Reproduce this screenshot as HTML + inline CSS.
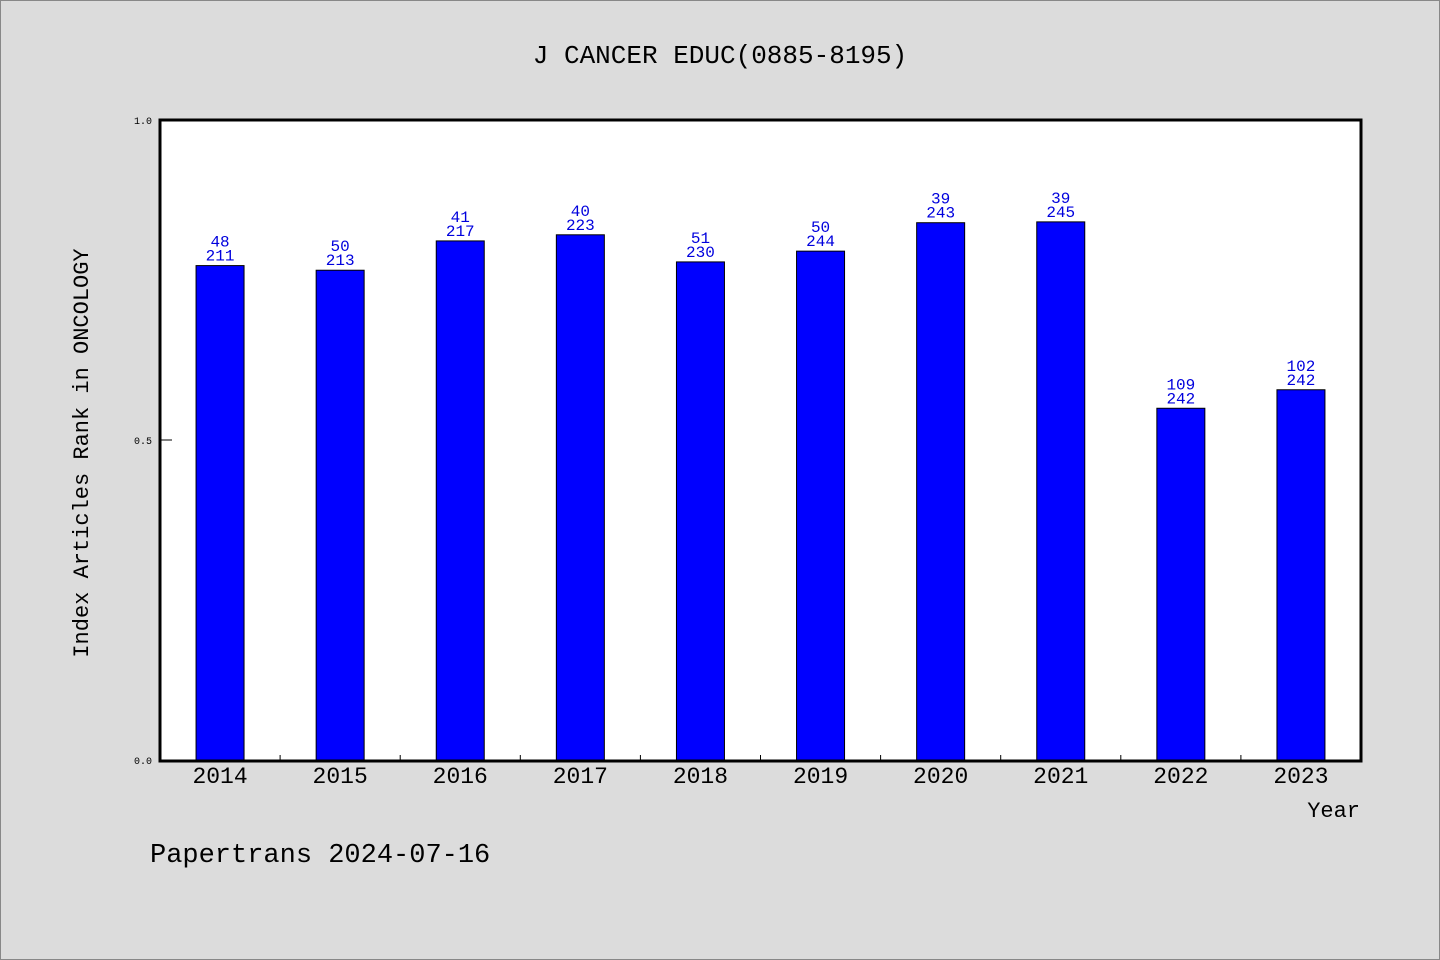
<!DOCTYPE html>
<html><head><meta charset="utf-8"><style>
body{margin:0;background:#dcdcdc;}
svg{display:block;}
text{font-family:"Liberation Mono","WenQuanYi Zen Hei",monospace;}
</style></head><body>
<svg width="1440" height="960">
<rect x="0.5" y="0.5" width="1439" height="959" fill="#dcdcdc" stroke="#888"/>
<text x="720" y="63" font-size="26" text-anchor="middle" fill="#000">J CANCER EDUC(0885-8195)</text>
<rect x="160" y="120" width="1201" height="641" fill="#fff"/>
<g id="bars"></g>
<rect x="160" y="120" width="1201" height="641" fill="none" stroke="#000" stroke-width="3"/>
<g id="axes"></g>
<text transform="translate(88,453) rotate(-90)" font-size="22" text-anchor="middle" fill="#000">Index Articles Rank in ONCOLOGY</text>
<text x="1360" y="817" font-size="22" text-anchor="end" fill="#000">Year</text>
<text x="150" y="862" font-size="27" fill="#000">Papertrans 2024-07-16</text>
</svg>
<script>
const years=["2014","2015","2016","2017","2018","2019","2020","2021","2022","2023"];
const ranks=[48,50,41,40,51,50,39,39,109,102];
const totals=[211,213,217,223,230,244,243,245,242,242];
const yTicks=["0.0","0.5","1.0"];
const NS="http://www.w3.org/2000/svg";
const x0=160,x1=1361,yTop=120,yBot=760;
const band=(x1-x0)/years.length;
function xs(i){return x0+band*(i+0.5);}
function ys(v){return yBot-(yBot-yTop)*v;}
function mk(tag,attrs,parent,txt){const e=document.createElementNS(NS,tag);for(const k in attrs)e.setAttribute(k,attrs[k]);if(txt!==undefined)e.textContent=txt;parent.appendChild(e);return e;}
const gb=document.getElementById('bars'),ga=document.getElementById('axes');
years.forEach((y,i)=>{
 const v=1-ranks[i]/totals[i];const cx=xs(i);const top=ys(v);
 const r=mk('rect',{x:cx-24,y:top,width:48,height:yBot-top,fill:'#0000ff',stroke:'#000','stroke-width':1},gb);
 
 
 const t1=mk('text',{x:cx,y:top-19,'font-size':16,'text-anchor':'middle',fill:'#0000dd'},gb,String(ranks[i]));
 
 
 const t2=mk('text',{x:cx,y:top-5,'font-size':16,'text-anchor':'middle',fill:'#0000dd'},gb,String(totals[i]));
 
 
 const xl=mk('text',{x:cx,y:783,'font-size':23,'text-anchor':'middle',fill:'#000'},ga,y);
 
 
 if(i>0){const tk=mk('line',{x1:x0+band*i,x2:x0+band*i,y1:755,y2:760,stroke:'#000'},ga);
 
 }
});
yTicks.forEach(t=>{
 const y=ys(parseFloat(t));
 const l=mk('text',{x:152,y:y+4,'font-size':10,'text-anchor':'end',fill:'#000'},ga,t);
 
 
 const tk=mk('line',{x1:160,x2:172,y1:y,y2:y,stroke:'#000'},ga);
 
 
});
</script>
</body></html>
